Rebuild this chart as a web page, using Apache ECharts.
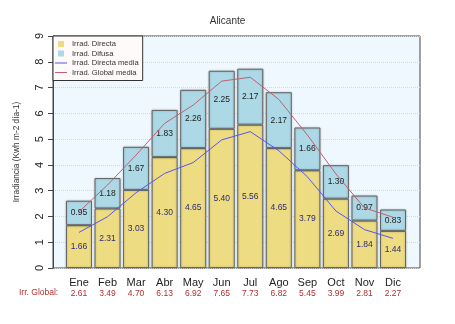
<!DOCTYPE html>
<html><head><meta charset="utf-8">
<script src="https://cdn.jsdelivr.net/npm/echarts@6/dist/echarts.min.js"></script>
<style>html,body{margin:0;padding:0;background:#fff}#c{width:455px;height:324px}</style>
</head><body><div id="c"></div>
<script>
var months = ['Ene','Feb','Mar','Abr','May','Jun','Jul','Ago','Sep','Oct','Nov','Dic'];
var directa = [1.66, 2.31, 3.03, 4.30, 4.65, 5.40, 5.56, 4.65, 3.79, 2.69, 1.84, 1.44];
var difusa = [0.95, 1.18, 1.67, 1.83, 2.26, 2.25, 2.17, 2.17, 1.66, 1.30, 0.97, 0.83];
var globalTot = ['2.61','3.49','4.70','6.13','6.92','7.65','7.73','6.82','5.45','3.99','2.81','2.27'];
var directaMedia = [1.38, 1.99, 2.92, 3.67, 4.09, 4.97, 5.29, 4.55, 3.54, 2.21, 1.49, 1.15];
var globalMedia = [2.18, 3.22, 4.38, 5.61, 6.32, 7.25, 7.40, 6.54, 5.16, 3.65, 2.33, 1.97];
var yTicks = [0,1,2,3,4,5,6,7,8,9];

var font = 'Liberation Sans, Arial, Helvetica, sans-serif';
var chart = echarts.init(document.getElementById('c'), null, {renderer:'canvas'});
var sqIcon = 'path://M0,0L0.01,0ZM3,0.5H9V6.5H3ZM12,7L11.99,7Z';
var lnIcon = 'path://M0,0L0.01,0ZM0,3H12V4H0ZM12,7L11.99,7Z';
chart.setOption({
  animation:false,
  textStyle:{fontFamily:font},
  title:{text:'Alicante', left:'center', top:11, textStyle:{fontSize:10, fontWeight:'normal', color:'#333', fontFamily:font}},
  legend:{
    orient:'vertical', left:53, top:36, padding:[4,4,4,2], itemGap:1.5,
    itemWidth:12, itemHeight:7,
    backgroundColor:'#fffafa', borderColor:'#333', borderWidth:1,
    itemStyle:{borderWidth:0},
    textStyle:{fontSize:7.6, color:'#333', fontFamily:font, lineHeight:7},
    data:[{name:'Irrad. Directa', icon:sqIcon, itemStyle:{borderWidth:0}},
          {name:'Irrad. Difusa', icon:sqIcon, itemStyle:{borderWidth:0}},
          {name:'Irrad. Directa media', icon:lnIcon, itemStyle:{borderWidth:0}},
          {name:'Irrad. Global media', icon:lnIcon, itemStyle:{borderWidth:0}}]
  },
  graphic:[{type:'text', left:19, top:288, style:{text:'Irr. Global:', fill:'#b03030', fontSize:8.5, fontFamily:font}}],
  grid:[
    {left:53, right:35, top:36, bottom:56, show:true, backgroundColor:'#f0f8ff', borderColor:'#444', borderWidth:1},
    {left:64.7, right:47.7, top:36, bottom:56}
  ],
  xAxis:[
    {type:'value', gridIndex:0, min:0, max:1, show:false},
    {type:'category', gridIndex:1, data:months, boundaryGap:true,
     axisLine:{show:false}, axisTick:{show:false},
     axisLabel:{margin:8, interval:0,
       formatter:function(v, i){ return '{m|' + v + '}\n{g|' + globalTot[i] + '}'; },
       rich:{m:{fontSize:11, lineHeight:13, color:'#222', fontFamily:font},
             g:{fontSize:8.5, lineHeight:10, color:'#b03030', fontFamily:font}}}}
  ],
  yAxis:[
    {type:'value', gridIndex:0, min:0, max:9, interval:1,
     name:'Irradiancia (Kwh m-2 día-1)', nameLocation:'middle', nameGap:32,
     nameTextStyle:{fontSize:8.3, color:'#333', fontFamily:font},
     axisLine:{show:true, lineStyle:{color:'#444'}},
     axisTick:{show:true, length:5, lineStyle:{color:'#444'}},
     axisLabel:{rotate:90, fontSize:11, color:'#222', margin:8, fontFamily:font,
       formatter:function(v){ return yTicks.indexOf(v) >= 0 ? String(v) : ''; }},
     splitLine:{show:true, lineStyle:{color:'#d6d6d6', type:'dotted'}}},
    {type:'value', gridIndex:1, min:0, max:9, interval:1, show:false}
  ],
  series:[
    {name:'Irrad. Directa', type:'bar', xAxisIndex:1, yAxisIndex:1, stack:'t', data:directa, barWidth:26,
     itemStyle:{color:'#eedc82', borderColor:'#666', borderWidth:1, shadowColor:'rgba(0,0,0,0.25)', shadowBlur:2},
     label:{show:true, position:'inside', fontSize:8.5, color:'#2b2b78', fontFamily:font,
       formatter:function(p){ return p.value.toFixed(2); }}},
    {name:'Irrad. Difusa', type:'bar', xAxisIndex:1, yAxisIndex:1, stack:'t', data:difusa, barWidth:26,
     itemStyle:{color:'#add8e6', borderColor:'#666', borderWidth:1, shadowColor:'rgba(0,0,0,0.25)', shadowBlur:2},
     label:{show:true, position:'inside', fontSize:8.5, color:'#222', fontFamily:font,
       formatter:function(p){ return p.value.toFixed(2); }}},
    {name:'Irrad. Directa media', type:'line', xAxisIndex:1, yAxisIndex:1, data:directaMedia, symbol:'none',
     lineStyle:{color:'#5555ee', width:1}, itemStyle:{color:'#5555ee'}, z:5},
    {name:'Irrad. Global media', type:'line', xAxisIndex:1, yAxisIndex:1, data:globalMedia, symbol:'none',
     lineStyle:{color:'#c06070', width:1}, itemStyle:{color:'#c06070'}, z:5}
  ]
});
</script></body></html>
